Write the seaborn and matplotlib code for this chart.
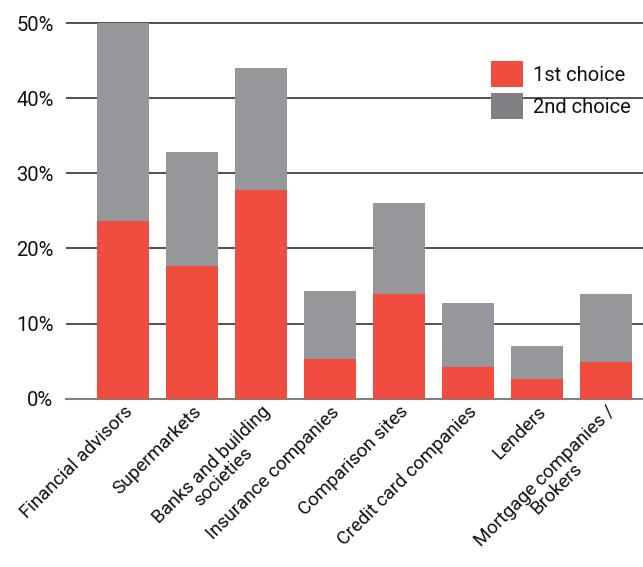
import matplotlib
matplotlib.use("Agg")
import matplotlib.pyplot as plt
from matplotlib.patches import Patch
from matplotlib.ticker import FuncFormatter
import pandas as pd
import seaborn as sns

categories = [
    "Financial advisors",
    "Supermarkets",
    "Banks and building\nsocieties",
    "Insurance companies",
    "Comparison sites",
    "Credit card companies",
    "Lenders",
    "Mortgage companies /\nBrokers",
]
first_choice = [23.7, 17.7, 27.8, 5.3, 13.9, 4.2, 2.6, 4.9]
second_choice = [26.3, 15.2, 16.2, 9.1, 12.1, 8.6, 4.4, 9.0]
yticks = [0, 10, 20, 30, 40, 50]

red = "#F04C40"
grey = "#96979B"

sns.set_theme(style="white")
plt.rcParams["font.family"] = ["Roboto", "DejaVu Sans"]

df = pd.DataFrame({
    "category": categories,
    "first": first_choice,
    "total": [a + b for a, b in zip(first_choice, second_choice)],
})

fig = plt.figure(figsize=(6.43, 5.67), dpi=100)
ax = fig.add_axes([66 / 643, 1 - 398.7 / 567, 1 - 66 / 643, (398.7 - 22) / 567])

for y in yticks[1:]:
    ax.axhline(y, color="#222222", lw=1.1, zorder=0)

sns.barplot(data=df, x="category", y="total", color=grey, width=0.75,
            saturation=1, linewidth=0, ax=ax, zorder=2)
sns.barplot(data=df, x="category", y="first", color=red, width=0.75,
            saturation=1, linewidth=0, ax=ax, zorder=3)

ax.set_xlim(-0.83, 7.54)
ax.set_ylim(0, 50.15)
ax.set_yticks(yticks)
ax.yaxis.set_major_formatter(FuncFormatter(lambda v, p: f"{v:.0f}%"))
ax.tick_params(axis="y", labelsize=14.5, length=0, pad=9, colors="#111111")
ax.tick_params(axis="x", length=0, pad=3)
ax.set_xticks(range(len(categories)))
ax.set_xticklabels(categories, rotation=45, ha="right", rotation_mode="anchor",
                   fontsize=13.6, color="#111111", ma="center", linespacing=0.88)
ax.set_xlabel("")
ax.set_ylabel("")
for s in ["top", "right", "left"]:
    ax.spines[s].set_visible(False)
ax.spines["bottom"].set_color("#808080")
ax.spines["bottom"].set_linewidth(1.5)

handles = [Patch(facecolor=red, edgecolor="none"),
           Patch(facecolor="#808084", edgecolor="none")]
leg = ax.legend(handles, ["1st choice", "2nd choice"], loc="upper left",
                bbox_to_anchor=(0.722, 0.917), frameon=False, fontsize=14.5,
                handlelength=1.6, handleheight=1.6, handletextpad=0.5,
                labelspacing=0.3, borderaxespad=0)
for t in leg.get_texts():
    t.set_color("#111111")

fig.savefig("out.png", dpi=100)
